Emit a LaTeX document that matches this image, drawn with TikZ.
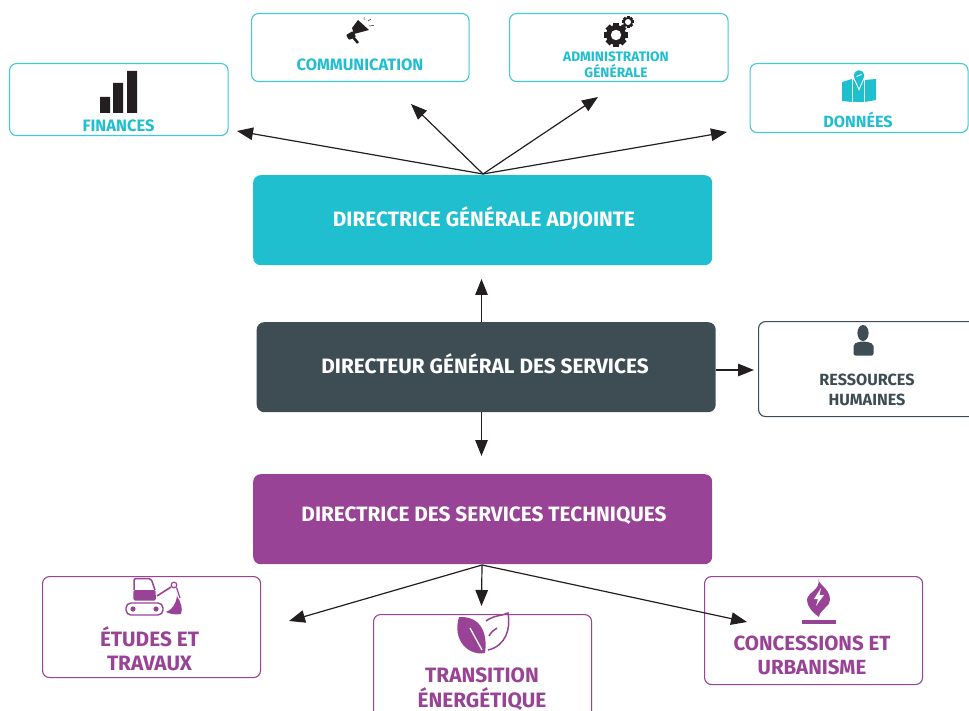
\documentclass[tikz,border=0pt]{standalone}
\usepackage{fontspec}
\setmainfont{Fira Sans}[BoldFont={Fira Sans Bold}]
\usetikzlibrary{arrows.meta}
\definecolor{teal}{HTML}{20BFCF}
\definecolor{slate}{HTML}{3E4C54}
\definecolor{plum}{HTML}{984396}
\definecolor{ink}{HTML}{231F20}
\tikzset{
 main/.style={rounded corners=7.5pt,text=white,font=\bfseries\fontsize{20.8}{24}\selectfont,inner sep=0pt,align=center},
 sub/.style={draw,rounded corners=7pt,line width=1.1pt,fill=white},
 lab/.style={font=\bfseries,align=center,inner sep=0pt},
 link/.style={draw=ink,line width=1.2pt,-{Triangle[length=16pt,width=12.5pt]},shorten <=0pt},
}
\begin{document}
\begin{tikzpicture}[x=1pt,y=-1pt]
\useasboundingbox (0,0) rectangle (969,711);
\clip (0,0) rectangle (969,711);
% sub boxes
\node[sub,draw=teal!85,minimum width=218.5pt,minimum height=72pt,anchor=north west] (fin) at (9,63) {};
\node[sub,draw=teal!85,minimum width=217.5pt,minimum height=68pt,anchor=north west] (com) at (251,13) {};
\node[sub,draw=teal!85,minimum width=218.5pt,minimum height=68pt,anchor=north west] (adm) at (509,13) {};
\node[sub,draw=teal!85,minimum width=218pt,minimum height=69pt,anchor=north west] (don) at (749.5,63) {};
\node[sub,draw=slate,minimum width=240pt,minimum height=95pt,anchor=north west] (rh) at (758,321) {};
\node[sub,draw=plum,minimum width=218pt,minimum height=101pt,anchor=north west] (etu) at (42,576) {};
\node[sub,draw=plum,minimum width=218pt,minimum height=120pt,anchor=north west] (tra) at (373,614) {};
\node[sub,draw=plum,minimum width=218pt,minimum height=108pt,anchor=north west] (con) at (704,576) {};
% main boxes
\node[main,fill=teal,minimum width=459pt,minimum height=90pt,anchor=north west] (dga) at (253,175) {};
\node[main,fill=slate,minimum width=459pt,minimum height=90pt,anchor=north west] (dg) at (256.5,322) {};
\node[main,fill=plum,minimum width=459pt,minimum height=90pt,anchor=north west] (dst) at (253,474) {};
\node[main] (dgat) at (484,218.5) {DIRECTRICE GÉNÉRALE ADJOINTE};
\node[main] (dgt) at (485,363.5) {DIRECTEUR GÉNÉRAL DES SERVICES};
\node[main] (dstt) at (484,515.5) {DIRECTRICE DES SERVICES TECHNIQUES};
% labels
\node[lab,text=teal,font=\bfseries\fontsize{16.5}{18}\selectfont] (l1) at (118.5,126) {FINANCES};
\node[lab,text=teal,font=\bfseries\fontsize{16.4}{18}\selectfont] (l2) at (360,65) {COMMUNICATION};
\node[lab,text=teal,font=\bfseries\fontsize{13.7}{16}\selectfont] (l3) at (616,65) {ADMINISTRATION\\GÉNÉRALE};
\node[lab,text=teal,font=\bfseries\fontsize{16.2}{18}\selectfont] (l4) at (858,120) {DONNÉES};
\node[lab,text=slate,font=\bfseries\fontsize{16.2}{20}\selectfont] (l5) at (867,390) {RESSOURCES\\HUMAINES};
\node[lab,text=plum,font=\bfseries\fontsize{20.8}{24}\selectfont] (l6) at (149.5,649) {ÉTUDES ET\\TRAVAUX};
\node[lab,text=plum,font=\bfseries\fontsize{20.8}{25}\selectfont] (l7) at (482,689.5) {TRANSITION\\ÉNERGÉTIQUE};
\node[lab,text=plum,font=\bfseries\fontsize{20.5}{24}\selectfont] (l8) at (812,655) {CONCESSIONS ET\\URBANISME};
% connector ends
\coordinate (a1) at (237,131);
\coordinate (a2) at (411,104);
\coordinate (a3) at (598,97);
\coordinate (a4) at (727,132);
\coordinate (dgN) at (481.5,322);
\coordinate (dgaS) at (481.5,279);
\coordinate (dgE) at (716,370);
\coordinate (rhW) at (754,370);
\coordinate (dgS) at (481.5,412);
\coordinate (dstN) at (481.5,456);
\coordinate (hubT) at (483,174);
\coordinate (hubB) at (482,565);
\coordinate (b1) at (289,621);
\coordinate (b2) at (481.5,606);
\coordinate (b3) at (747,622);
\draw[link] (hubT) -- (a1);
\draw[link] (hubT) -- (a2);
\draw[link] (hubT) -- (a3);
\draw[link] (hubT) -- (a4);
\draw[link] (dgN) -- (dgaS);
\draw[link] (dgE) -- (rhW);
\draw[link] (dgS) -- (dstN);
\draw[link] (hubB) -- (b1);
\draw[link] (hubB) -- (b2);
\draw[link] (hubB) -- (b3);
% icon: bars
\fill[ink] (100,97) rectangle (110,113) (113,83) rectangle (123,113) (127,71) rectangle (137,113);
% icon: megaphone
\fill[ink] (352,28) -- (358,20) -- (369,30) -- (354,34) -- cycle;
\fill[ink,rounded corners=1pt] (346,35) -- (353,31) -- (356,37) -- (349,40) -- cycle;
\draw[ink,line width=2.6pt] (353,37) -- (358,43);
\draw[ink,line width=.5pt] (368,21) -- (371,19) (369,26) -- (374,25.5) (364,20) -- (364,17);
% icon: gears
\foreach \a in {0,45,...,315}{\fill[ink,rotate around={\a:(616,35)}] (613,23) rectangle (619,30);}
\fill[ink] (616,35) circle (10);
\fill[white] (616,35) circle (5.2);
\foreach \a in {0,45,...,315}{\fill[ink,rotate around={\a:(628,22)}] (626.5,16) rectangle (629.5,19);}
\fill[ink] (628,22) circle (5);
\fill[white] (628,22) circle (3);
% icon: map
\fill[teal] (842,82) -- (852,79) -- (852,102) -- (842,101) -- cycle;
\fill[teal] (853,79) -- (859,88) -- (864,79) -- (864,102) -- (853,102) -- cycle;
\fill[teal] (865,80) -- (876,79) -- (876,100) -- (865,102) -- cycle;
\draw[white,line width=1pt] (854,78) -- (859,89.5) -- (864,78);
\fill[white] (859,75.5) circle (6.2);
\fill[teal] (859,88) -- (854.2,77.5) -- (863.8,77.5) -- cycle;
\fill[teal] (859,75.5) circle (5.3);
\draw[white,line width=.9pt] (856.5,76.5) -- (861.5,74.5);
% icon: person
\fill[slate] (863,333) ellipse (5.6 and 8);
\fill[slate,rounded corners=2pt] (853.5,355.5) -- (853.5,344) -- (860,341.5) -- (866,341.5) -- (873.5,344) -- (873.5,355.5) -- cycle;
% icon: excavator
\draw[plum,line width=1.5pt,rounded corners=2pt] (134,590) -- (134,578.5) -- (151,578.5) -- (155,590);
\fill[plum,rounded corners=1.5pt] (133.3,590) -- (155.5,590) -- (156,600.5) -- (133.3,600.5) -- cycle;
\draw[plum,line width=1.4pt,rounded corners=5pt] (126,603) rectangle (163,615);
\fill[plum] (133,609) circle (2.6) (156,609) circle (2.6);
\draw[plum,line width=1.6pt] (157,596) -- (171,587);
\draw[plum,line width=1.2pt] (174,585) circle (2.8);
\draw[plum,line width=1.2pt] (176.5,587.5) -- (180,598);
\fill[plum] (177,596) .. controls (181,603) and (183,608) .. (181,614) .. controls (175,615) and (170,614) .. (166,612) .. controls (172,610) and (176,604) .. (177,596) -- cycle;
% icon: leaves
\fill[plum] (459,617) .. controls (480,616) and (488,632) .. (485,653) .. controls (468,656) and (452,640) .. (459,617) -- cycle;
\draw[white,line width=1.3pt] (470,628) -- (482,650);
\draw[plum,line width=1.5pt] (486,621) .. controls (494,615) and (502,616) .. (508,613) .. controls (511,628) and (506,646) .. (488,650);
\draw[plum,line width=1.5pt] (489,636) .. controls (491,632) and (494,630) .. (497,628);
% icon: flame
\fill[plum] (818,578) .. controls (818,585) and (830,588) .. (830,600) .. controls (830,607) and (820,609) .. (819,617) .. controls (812,612) and (807,606) .. (807,600) .. controls (807,592) and (822,590) .. (818,578) -- cycle;
\fill[white] (821,588) -- (814,599) -- (818,599) -- (816,606) -- (824,595) -- (819.5,595) -- cycle;
\fill[plum] (802,620) rectangle (836,623.5);
\end{tikzpicture}
\end{document}
